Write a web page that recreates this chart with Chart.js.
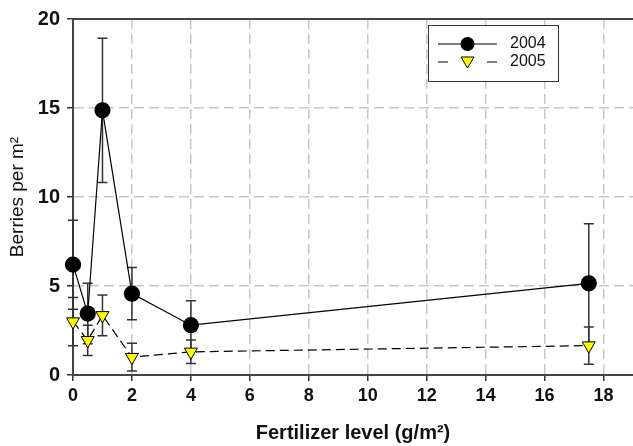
<!DOCTYPE html>
<html>
<head>
<meta charset="utf-8">
<script src="https://cdn.jsdelivr.net/npm/chart.js@4/dist/chart.umd.min.js"></script>
<style>
  html, body { margin: 0; padding: 0; background: #fff; }
</style>
</head>
<body>
<canvas id="myChart" width="633" height="446"></canvas>
<script>
'use strict';

/** Data */
let fertLevels = [0, 0.5, 1, 2, 4, 17.5];
let berries2004 = [6.2, 3.45, 14.87, 4.57, 2.8, 5.15];
let err2004 = [2.5, 1.7, 4.05, 1.47, 1.37, 3.35];
let berries2005 = [3.0, 1.95, 3.35, 1.0, 1.3, 1.65];
let err2005 = [1.35, 0.85, 1.15, 0.78, 0.66, 1.05];
let seriesNames = ['2004', '2005'];
let xTicks = [0, 2, 4, 6, 8, 10, 12, 14, 16, 18];
let yTicks = [0, 5, 10, 15, 20];

let ctx = document.getElementById('myChart');
let fontFamily = 'Arial, "Liberation Sans", sans-serif';

function toPoints(values) {
  let pts = [];
  for (let i = 0; i < values.length; i++) {
    pts.push({ x: fertLevels[i], y: values[i] });
  }
  return pts;
}

// error bars, drawn under the markers
let errorBarPlugin = {
  id: 'errorBars',
  beforeDatasetsDraw(chart) {
    let c = chart.ctx;
    let xs = chart.scales.x;
    let ys = chart.scales.y;
    let allErrors = [err2004, err2005];
    let allValues = [berries2004, berries2005];
    c.save();
    c.strokeStyle = '#333';
    c.lineWidth = 1.5;
    for (let d = 0; d < allValues.length; d++) {
      for (let i = 0; i < fertLevels.length; i++) {
        let px = xs.getPixelForValue(fertLevels[i]);
        let top = ys.getPixelForValue(allValues[d][i] + allErrors[d][i]);
        let bot = ys.getPixelForValue(allValues[d][i] - allErrors[d][i]);
        c.beginPath();
        c.moveTo(px, top); c.lineTo(px, bot);
        c.moveTo(px - 5, top); c.lineTo(px + 5, top);
        c.moveTo(px - 5, bot); c.lineTo(px + 5, bot);
        c.stroke();
      }
    }
    c.restore();
  }
};

// top frame line + boxed legend
let framePlugin = {
  id: 'frame',
  afterDraw(chart) {
    let c = chart.ctx;
    let area = chart.chartArea;
    c.save();
    c.strokeStyle = '#444';
    c.lineWidth = 2;
    c.beginPath();
    c.moveTo(area.left, area.top);
    c.lineTo(area.right, area.top);
    c.stroke();

    // legend box
    c.fillStyle = '#fff';
    c.fillRect(428, 25, 130, 56);
    c.strokeStyle = '#333';
    c.lineWidth = 1;
    c.strokeRect(428.5, 25.5, 130, 56);

    c.strokeStyle = '#000';
    c.lineWidth = 1.2;
    // 2004 entry
    c.beginPath();
    c.moveTo(438, 44); c.lineTo(497, 44);
    c.stroke();
    c.fillStyle = '#000';
    c.beginPath();
    c.arc(467.5, 44, 7, 0, Math.PI * 2);
    c.fill();
    // 2005 entry
    c.beginPath();
    c.moveTo(438, 62); c.lineTo(448, 62);
    c.moveTo(487, 62); c.lineTo(497, 62);
    c.stroke();
    c.fillStyle = '#ffff00';
    c.beginPath();
    c.moveTo(461, 57); c.lineTo(474, 57); c.lineTo(467.5, 68);
    c.closePath();
    c.fill();
    c.lineWidth = 1;
    c.stroke();

    c.fillStyle = '#111';
    c.font = '16px ' + fontFamily;
    c.textBaseline = 'middle';
    c.fillText(seriesNames[0], 510, 44);
    c.fillText(seriesNames[1], 510, 62);
    c.restore();
  }
};

let chartObj = {
  type: 'scatter',
  data: {
    datasets: [{
      label: seriesNames[0],
      data: toPoints(berries2004),
      showLine: true,
      borderColor: '#000',
      borderWidth: 1.2,
      pointStyle: 'circle',
      pointRadius: 7.5,
      pointBackgroundColor: '#000',
      pointBorderColor: '#000',
      clip: false
    },
    {
      label: seriesNames[1],
      data: toPoints(berries2005),
      showLine: true,
      borderColor: '#000',
      borderWidth: 1.2,
      borderDash: [9, 5],
      pointStyle: 'triangle',
      rotation: 180,
      pointRadius: 7.5,
      pointBackgroundColor: '#ffff00',
      pointBorderColor: '#000',
      pointBorderWidth: 1,
      clip: false
    }]
  },
  options: {
    responsive: false,
    animation: false,
    devicePixelRatio: 1,
    layout: { autoPadding: false, padding: { top: 19, right: 0, left: 0, bottom: 0 } },
    plugins: {
      legend: { display: false },
      tooltip: { enabled: false }
    },
    scales: {
      x: {
        type: 'linear',
        min: 0,
        max: 19,
        afterBuildTicks: (scale) => { scale.ticks = xTicks.map(v => ({ value: v })); },
        afterFit: (scale) => { scale.height = 71; },
        ticks: {
          color: '#111',
          font: { family: fontFamily, size: 18, weight: 'bold' },
          padding: 4
        },
        grid: {
          color: '#c8c8c8',
          lineWidth: 1.5,
          tickColor: '#333',
          tickLength: 6,
          tickWidth: 1.5
        },
        border: { color: '#444', width: 2, dash: [10, 5] },
        title: {
          display: true,
          text: 'Fertilizer level (g/m²)',
          color: '#111',
          font: { family: fontFamily, size: 20, weight: 'bold' },
          padding: { top: 0, bottom: 1 }
        }
      },
      y: {
        min: 0,
        max: 20,
        afterBuildTicks: (scale) => { scale.ticks = yTicks.map(v => ({ value: v })); },
        afterFit: (scale) => { scale.width = 73; },
        ticks: {
          color: '#111',
          font: { family: fontFamily, size: 20, weight: 'bold' },
          padding: 7
        },
        grid: {
          color: '#c8c8c8',
          lineWidth: 1.5,
          tickColor: '#333',
          tickLength: 6,
          tickWidth: 1.5
        },
        border: { color: '#444', width: 2, dash: [10, 5] },
        title: {
          display: true,
          text: 'Berries per m²',
          color: '#111',
          font: { family: fontFamily, size: 19 },
          padding: { top: 6, bottom: 0 }
        }
      }
    }
  },
  plugins: [errorBarPlugin, framePlugin]
};

new Chart(ctx, chartObj);
</script>
</body>
</html>
